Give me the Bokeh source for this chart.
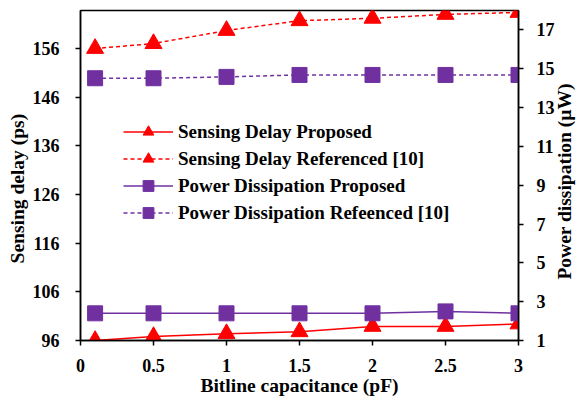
import math
from bokeh.plotting import figure
from bokeh.models import Range1d, LinearAxis, FixedTicker, NumeralTickFormatter, Legend, LegendItem, Label
from bokeh.embed import file_html
from bokeh.resources import INLINE

# Data
capacitance = [0.1, 0.5, 1, 1.5, 2, 2.5, 3]
delay_proposed = [96.0, 96.8, 97.4, 97.8, 98.9, 98.9, 99.4]
delay_referenced = [156.0, 157.0, 159.7, 161.7, 162.2, 163.0, 163.4]
power_proposed = [2.4, 2.4, 2.4, 2.4, 2.4, 2.5, 2.4]
power_referenced = [14.51, 14.51, 14.58, 14.68, 14.68, 14.68, 14.68]

x_ticks = [0, 0.5, 1, 1.5, 2, 2.5, 3]
left_ticks = [96, 106, 116, 126, 136, 146, 156]
right_ticks = [1, 3, 5, 7, 9, 11, 13, 15, 17]

x_title = "Bitline capacitance (pF)"
left_title = "Sensing delay (ps)"
right_title = "Power dissipation (µW)"

RED = "#FF0000"
PURPLE = "#7030A0"
FONT = "Liberation Serif"

p = figure(width=579, height=401, output_backend="svg", toolbar_location=None,
           x_range=Range1d(0, 3), y_range=Range1d(96, 163.8),
           min_border_left=80, min_border_right=61, min_border_top=10, min_border_bottom=61)
p.extra_y_ranges = {"pw": Range1d(1, 18)}

p.xgrid.visible = False
p.ygrid.visible = False
p.outline_line_color = "black"
p.outline_line_width = 1.5
p.background_fill_color = "white"
p.border_fill_color = "white"

def style_axis(ax, ticks):
    ax.ticker = FixedTicker(ticks=ticks)
    ax.minor_tick_line_color = None
    ax.major_tick_in = 0
    ax.major_tick_out = 5
    ax.major_tick_line_width = 1.5
    ax.axis_line_width = 1.5
    ax.axis_line_color = "black"
    ax.major_tick_line_color = "black"
    ax.major_label_text_font = FONT
    ax.major_label_text_font_style = "bold"
    ax.major_label_text_font_size = "18px"
    ax.major_label_text_color = "black"
    ax.axis_label_text_font = FONT
    ax.axis_label_text_font_style = "bold"
    ax.axis_label_text_font_size = "19.5px"
    ax.axis_label_text_color = "black"

xa = p.xaxis[0]
style_axis(xa, x_ticks)
xa.formatter = NumeralTickFormatter(format="0.[0]")
xa.axis_label = x_title
xa.major_label_standoff = 13
xa.axis_label_standoff = 0

ya = p.yaxis[0]
style_axis(ya, left_ticks)
ya.major_label_standoff = 16

ra = LinearAxis(y_range_name="pw")
style_axis(ra, right_ticks)
ra.major_label_standoff = 13
p.add_layout(ra, "right")

# vertical axis titles (both read bottom-to-top), placed in side panels so they are not clipped
p.add_layout(Label(x=0, y=127.2, x_offset=-63, text=left_title, angle=math.pi / 2,
                   text_align="center", text_baseline="middle",
                   text_font=FONT, text_font_style="bold", text_font_size="19.5px",
                   text_color="black"), "left")
p.add_layout(Label(x=3, y=9.2, y_range_name="pw", x_offset=46, text=right_title,
                   angle=math.pi / 2, text_align="center", text_baseline="middle",
                   text_font=FONT, text_font_style="bold", text_font_size="19.5px",
                   text_color="black"), "right")

l1 = p.line(capacitance, delay_proposed, line_color=RED, line_width=1.5)
m1 = p.scatter(capacitance, delay_proposed, marker="triangle", size=17, fill_color=RED, line_color=RED)
l2 = p.line(capacitance, delay_referenced, line_color=RED, line_width=1.5, line_dash="4 3")
m2 = p.scatter(capacitance, delay_referenced, marker="triangle", size=17, fill_color=RED, line_color=RED)
l3 = p.line(capacitance, power_proposed, line_color=PURPLE, line_width=1.5, y_range_name="pw")
m3 = p.scatter(capacitance, power_proposed, marker="square", size=15, fill_color=PURPLE, line_color=PURPLE, y_range_name="pw")
l4 = p.line(capacitance, power_referenced, line_color=PURPLE, line_width=1.5, line_dash="4 3", y_range_name="pw")
m4 = p.scatter(capacitance, power_referenced, marker="square", size=15, fill_color=PURPLE, line_color=PURPLE, y_range_name="pw")

legend = Legend(items=[
    LegendItem(label="Sensing Delay Proposed", renderers=[l1, m1]),
    LegendItem(label="Sensing Delay Referenced [10]", renderers=[l2, m2]),
    LegendItem(label="Power Dissipation Proposed", renderers=[l3, m3]),
    LegendItem(label="Power Dissipation Refeenced [10]", renderers=[l4, m4]),
], location=(43, 114), orientation="vertical")
legend.border_line_color = None
legend.background_fill_alpha = 0
legend.padding = 0
legend.margin = 0
legend.spacing = 0
legend.glyph_width = 50
legend.glyph_height = 27
legend.label_height = 27
legend.label_standoff = 5
legend.label_text_font = FONT
legend.label_text_font_style = "bold"
legend.label_text_font_size = "19px"
legend.label_text_color = "black"
p.add_layout(legend, "center")

open("out.html", "w").write(file_html(p, INLINE))
